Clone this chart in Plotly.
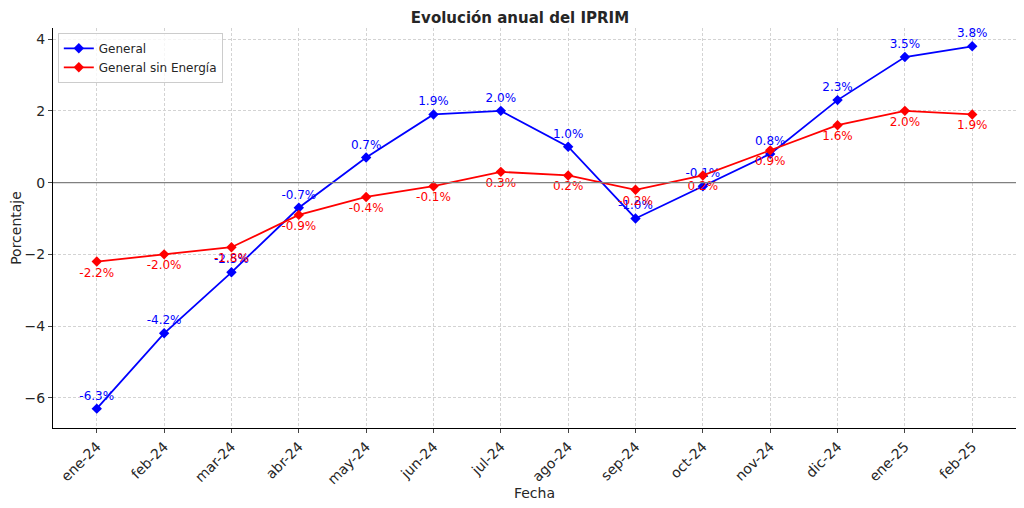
import plotly.graph_objects as go

meses = ['ene-24', 'feb-24', 'mar-24', 'abr-24', 'may-24', 'jun-24', 'jul-24',
         'ago-24', 'sep-24', 'oct-24', 'nov-24', 'dic-24', 'ene-25', 'feb-25']
general = [-6.3, -4.2, -2.5, -0.7, 0.7, 1.9, 2.0, 1.0, -1.0, -0.1, 0.8, 2.3, 3.5, 3.8]
sin_energia = [-2.2, -2.0, -1.8, -0.9, -0.4, -0.1, 0.3, 0.2, -0.2, 0.2, 0.9, 1.6, 2.0, 1.9]

x = list(range(len(meses)))

fig = go.Figure()

fig.add_trace(go.Scatter(
    x=x, y=general, name='General', mode='lines+markers+text',
    line=dict(color='blue', width=1.8),
    marker=dict(symbol='diamond', size=8, color='blue'),
    text=[f'{v:.1f}%' for v in general], textposition='top center',
    textfont=dict(color='blue', size=12)))

fig.add_trace(go.Scatter(
    x=x, y=sin_energia, name='General sin Energía', mode='lines+markers+text',
    line=dict(color='red', width=1.8),
    marker=dict(symbol='diamond', size=8, color='red'),
    text=[f'{v:.1f}%' for v in sin_energia], textposition='bottom center',
    textfont=dict(color='red', size=12)))

# linea del cero
fig.add_hline(y=0, line=dict(color='gray', width=1.2))

# la pagina tiene 8px de margen en el body, se descuenta aqui
fig.update_layout(
    width=1024, height=508,
    margin=dict(l=45, r=16, t=20, b=88),
    paper_bgcolor='white', plot_bgcolor='white',
    font=dict(family='DejaVu Sans', size=12, color='#262626'),
    title=dict(text='<b>Evolución anual del IPRIM</b>', x=0.5, xanchor='center',
               y=0.992, yanchor='top', pad=dict(t=0), font=dict(size=15)),
    legend=dict(x=0.005, y=0.988, xanchor='left', yanchor='top',
                bordercolor='#cccccc', borderwidth=1, bgcolor='rgba(255,255,255,0.8)',
                font=dict(size=12), tracegroupgap=0),
    showlegend=True,
)

fig.update_xaxes(
    range=[-0.65, 13.65], tickvals=x, ticktext=meses, tickangle=-45,
    showgrid=True, gridcolor='#d3d3d3', griddash='3px,2px', gridwidth=0.7,
    showline=True, linecolor='black', ticks='outside', ticklen=4,
    tickfont=dict(size=14), zeroline=False, automargin=False,
    title=dict(text='Fecha', font=dict(size=14), standoff=0))

fig.update_yaxes(
    range=[-6.84, 4.31], tickvals=[-6, -4, -2, 0, 2, 4],
    showgrid=True, gridcolor='#d3d3d3', griddash='3px,2px', gridwidth=0.7,
    showline=True, linecolor='black', ticks='outside', ticklen=4,
    tickfont=dict(size=14), zeroline=False, automargin=False,
    title=dict(text='Porcentaje', font=dict(size=14), standoff=4))

fig.write_html('out.html')
